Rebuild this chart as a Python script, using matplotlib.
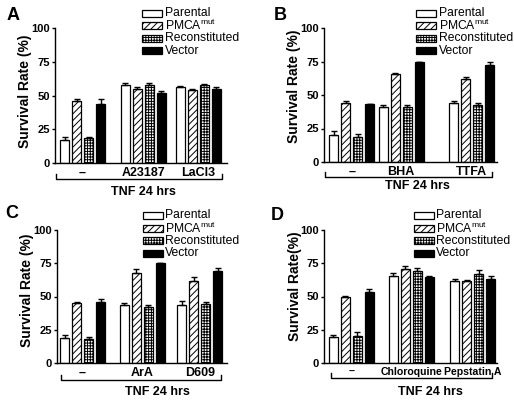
import matplotlib
matplotlib.use('Agg')
import matplotlib.pyplot as plt
from matplotlib.patches import Rectangle
from matplotlib.lines import Line2D
import numpy as np

plt.rcParams['font.family'] = ['Liberation Sans', 'DejaVu Sans']
plt.rcParams['mathtext.fontset'] = 'custom'
plt.rcParams['mathtext.rm'] = 'Liberation Sans'
plt.rcParams['mathtext.it'] = 'Liberation Sans'
plt.rcParams['hatch.linewidth'] = 0.7

# ---------------- data ----------------
series_names = ['Parental', 'PMCA$^{\\mathrm{mut}}$', 'Reconstituted', 'Vector']

cats_A = ['–', 'A23187', 'LaCl3']
parental_A = [17, 58, 56]
pmca_A = [46, 54.5, 54]
recon_A = [18.5, 58, 58]
vector_A = [44, 52, 54.5]
err_parental_A = [2.3, 1.0, 1.0]
err_pmca_A = [1.7, 1.5, 0.7]
err_recon_A = [1.0, 1.5, 0.5]
err_vector_A = [3.2, 1.5, 1.5]

cats_B = ['–', 'BHA', 'TTFA']
parental_B = [19.8, 41.3, 44.3]
pmca_B = [44, 65.6, 62.1]
recon_B = [19, 41.3, 42.6]
vector_B = [43, 74.3, 72.5]
err_parental_B = [3.0, 1.2, 1.5]
err_pmca_B = [1.5, 1.0, 1.2]
err_recon_B = [2.0, 1.5, 1.5]
err_vector_B = [0.5, 0.7, 2.0]

cats_C = ['–', 'ArA', 'D609']
parental_C = [18.8, 43.5, 43.3]
pmca_C = [45, 68, 62]
recon_C = [18, 42, 44.3]
vector_C = [46, 75, 69]
err_parental_C = [2.3, 1.5, 3.0]
err_pmca_C = [0.5, 2.5, 3.0]
err_recon_C = [1.8, 1.5, 1.5]
err_vector_C = [2.0, 0.3, 2.5]

cats_D = ['–', 'Chloroquine', 'Pepstatin A']
parental_D = [19.3, 65.3, 61.8]
pmca_D = [50, 70.8, 61.8]
recon_D = [20.5, 69, 66.8]
vector_D = [53.3, 64.3, 63.3]
err_parental_D = [2.0, 2.5, 1.5]
err_pmca_D = [0.5, 2.5, 0.5]
err_recon_D = [2.5, 2.5, 3.0]
err_vector_D = [2.0, 1.0, 2.0]

yticks = [0, 25, 50, 75, 100]
group_label = 'TNF 24 hrs'

# ---------------- layout (pixels) ----------------
W, H = 514, 400
fig = plt.figure(figsize=(W / 100, H / 100), dpi=100)

def fx(x):
    return x / W

def fy(y):
    return 1 - y / H

styles = [
    dict(facecolor='white', hatch=None),
    dict(facecolor='white', hatch='/////'),
    dict(facecolor='white', hatch='++++++'),
    dict(facecolor='black', hatch=None),
]

panels = [
    dict(letter='A', letter_xy=(13, 15), ax_box=(55, 227, 28, 163),
         groups=[82.5, 143, 198], cats=cats_A, cat_fs=9,
         vals=[parental_A, pmca_A, recon_A, vector_A],
         errs=[err_parental_A, err_pmca_A, err_recon_A, err_vector_A],
         ylabel='Survival Rate (%)', ylabel_xy=(25, 91),
         bracket=(56, 222, 179), tnf_xy=(143, 192),
         leg_box_x=142, leg_text_x=165, leg_rows=[13, 25.5, 38, 50.5]),
    dict(letter='B', letter_xy=(280, 15), ax_box=(324, 497, 28, 162),
         groups=[351.7, 401.2, 471.7], cats=cats_B, cat_fs=9,
         vals=[parental_B, pmca_B, recon_B, vector_B],
         errs=[err_parental_B, err_pmca_B, err_recon_B, err_vector_B],
         ylabel='Survival Rate (%)', ylabel_xy=(294, 86),
         bracket=(325, 492, 177), tnf_xy=(417, 186),
         leg_box_x=416, leg_text_x=439, leg_rows=[13, 25.5, 38, 50.5]),
    dict(letter='C', letter_xy=(12, 214), ax_box=(57, 227, 230, 363),
         groups=[82.5, 142, 199.7], cats=cats_C, cat_fs=9,
         vals=[parental_C, pmca_C, recon_C, vector_C],
         errs=[err_parental_C, err_pmca_C, err_recon_C, err_vector_C],
         ylabel='Survival Rate (%)', ylabel_xy=(27, 290),
         bracket=(61, 221, 380), tnf_xy=(157, 392),
         leg_box_x=143, leg_text_x=165, leg_rows=[215, 228, 241, 253.5]),
    dict(letter='D', letter_xy=(277, 215), ax_box=(324, 497, 230, 363),
         groups=[351.2, 411.2, 472.8], cats=cats_D, cat_fs=7.6,
         vals=[parental_D, pmca_D, recon_D, vector_D],
         errs=[err_parental_D, err_pmca_D, err_recon_D, err_vector_D],
         ylabel='Survival Rate(%)', ylabel_xy=(295, 286),
         bracket=(331, 492, 378), tnf_xy=(430, 392),
         leg_box_x=414, leg_text_x=436, leg_rows=[215, 228, 241, 253.5]),
]

bar_w = 9
offsets = [-18, -6, 6, 18]

for p in panels:
    l, r, t, b = p['ax_box']
    ax = fig.add_axes([fx(l), fy(b), fx(r) - fx(l), fy(t) - fy(b)])
    ax.set_xlim(0, r - l)
    ax.set_ylim(0, 100)
    centers = np.array(p['groups']) - l
    for k in range(4):
        xs = centers + offsets[k]
        ax.bar(xs, p['vals'][k], width=bar_w, color=styles[k]['facecolor'],
               edgecolor='black', linewidth=0.9, hatch=styles[k]['hatch'],
               zorder=2)
        ax.errorbar(xs, p['vals'][k],
                    yerr=[np.zeros(len(xs)), p['errs'][k]],
                    fmt='none', ecolor='black', elinewidth=1.0,
                    capsize=2.2, capthick=1.0, zorder=3)
    for s in ['top', 'right']:
        ax.spines[s].set_visible(False)
    for s in ['left', 'bottom']:
        ax.spines[s].set_linewidth(1.0)
    ax.set_yticks(yticks)
    ax.set_yticklabels([str(v) for v in yticks], fontsize=8, fontweight='bold')
    ax.tick_params(axis='y', length=2.5, width=1, pad=1.0)
    ax.set_xticks(centers)
    ax.set_xticklabels(p['cats'], fontsize=p['cat_fs'], fontweight='bold')
    ax.tick_params(axis='x', length=0, pad=3)

    fig.text(fx(p['ylabel_xy'][0]), fy(p['ylabel_xy'][1]), p['ylabel'],
             rotation=90, ha='center', va='center', fontsize=10,
             fontweight='bold')
    fig.text(fx(p['letter_xy'][0]), fy(p['letter_xy'][1]), p['letter'],
             ha='center', va='center', fontsize=13, fontweight='bold')

    bx0, bx1, by = p['bracket']
    fig.add_artist(Line2D([fx(bx0), fx(bx0), fx(bx1), fx(bx1)],
                          [fy(by - 5), fy(by), fy(by), fy(by - 5)],
                          color='black', linewidth=1.0,
                          transform=fig.transFigure))
    fig.text(fx(p['tnf_xy'][0]), fy(p['tnf_xy'][1]), group_label,
             ha='center', va='center', fontsize=9, fontweight='bold')

    for k in range(4):
        yrow = p['leg_rows'][k]
        rect = Rectangle((fx(p['leg_box_x']), fy(yrow + 3.5)),
                         fx(20), 7 / H, transform=fig.transFigure,
                         facecolor=styles[k]['facecolor'], edgecolor='black',
                         linewidth=0.9, hatch=styles[k]['hatch'])
        fig.add_artist(rect)
        fig.text(fx(p['leg_text_x']), fy(yrow), series_names[k],
                 ha='left', va='center', fontsize=8.7)

fig.savefig('out.png', dpi=100)
